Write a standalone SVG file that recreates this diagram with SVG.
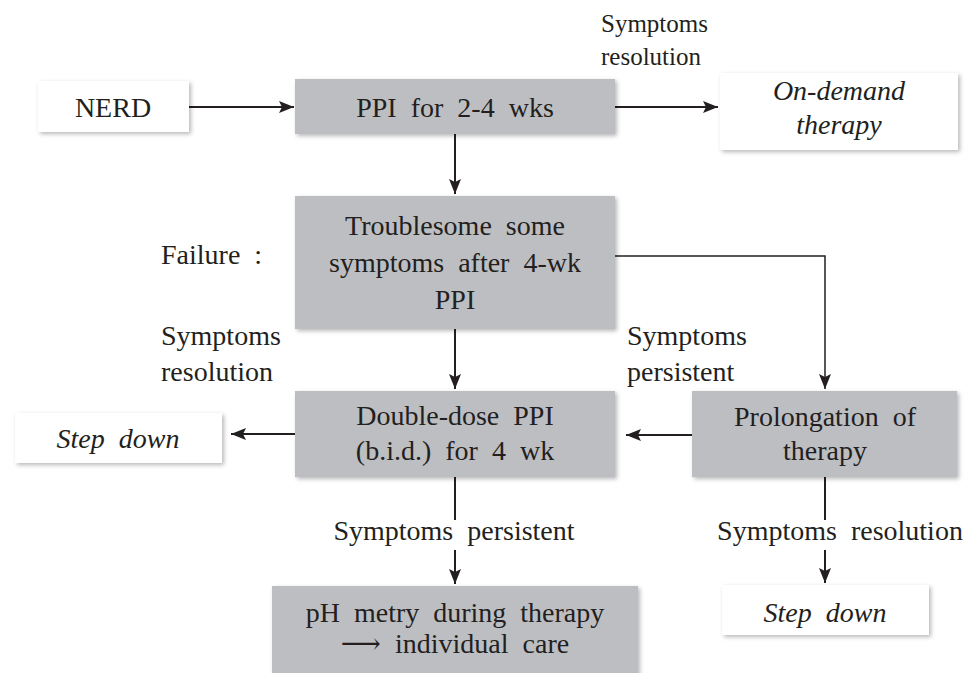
<svg xmlns="http://www.w3.org/2000/svg" width="964" height="673" viewBox="0 0 964 673">
<defs>
<filter id="sh" x="-10%" y="-10%" width="125%" height="130%">
<feDropShadow dx="2" dy="2" stdDeviation="2" flood-color="#000" flood-opacity="0.28"/>
</filter>
<marker id="ah" markerUnits="userSpaceOnUse" markerWidth="16" markerHeight="12" refX="15" refY="6" orient="auto">
<path d="M0,0 L15,6 L0,12 L3,6 z" fill="#231f20"/>
</marker>
<style>
svg text{font-family:'Liberation Serif','Times New Roman',Tinos,'DejaVu Serif',serif !important;fill:#231f20;font-size:28px;word-spacing:7px}
.c{text-anchor:middle}
.i{font-style:italic}
.s{font-size:25px;word-spacing:5px}
.g{fill:#bdbec2;filter:url(#sh)}
.w{fill:#ffffff;filter:url(#sh)}
.ln{stroke:#231f20;stroke-width:2;fill:none}
.thin{stroke:#231f20;stroke-width:1.5;fill:none}
</style>
</defs>
<rect width="964" height="673" fill="#ffffff"/>
<g id="connectors">
<line class="ln" x1="189" y1="107" x2="294" y2="107" marker-end="url(#ah)"/>
<line class="ln" x1="615" y1="107" x2="718" y2="107" marker-end="url(#ah)"/>
<line class="ln" x1="455" y1="134" x2="455" y2="194" marker-end="url(#ah)"/>
<line class="ln" x1="455" y1="329" x2="455" y2="389" marker-end="url(#ah)"/>
<polyline class="thin" points="615,256 825,256 825,389" marker-end="url(#ah)"/>
<line class="ln" x1="692" y1="435" x2="626" y2="435" marker-end="url(#ah)"/>
<line class="ln" x1="295" y1="434" x2="231" y2="434" marker-end="url(#ah)"/>
<line class="ln" x1="455" y1="477" x2="455" y2="520"/>
<line class="ln" x1="455" y1="550" x2="455" y2="584" marker-end="url(#ah)"/>
<line class="ln" x1="825" y1="477" x2="825" y2="520"/>
<line class="ln" x1="825" y1="550" x2="825" y2="583" marker-end="url(#ah)"/>
</g>
<g id="labels">
<text class="s" x="601" y="32" style="font-family:'Liberation Serif',serif">Symptoms</text>
<text class="s" x="601" y="65" style="font-family:'Liberation Serif',serif">resolution</text>
<text x="161" y="264" style="font-family:'Liberation Serif',serif">Failure :</text>
<text x="161" y="345" style="font-family:'Liberation Serif',serif">Symptoms</text>
<text x="161" y="381" style="font-family:'Liberation Serif',serif">resolution</text>
<text x="627" y="345" style="font-family:'Liberation Serif',serif">Symptoms</text>
<text x="627" y="381" style="font-family:'Liberation Serif',serif">persistent</text>
<text class="c" x="454" y="540" style="font-family:'Liberation Serif',serif">Symptoms persistent</text>
<text class="c" x="840" y="540" style="font-family:'Liberation Serif',serif">Symptoms resolution</text>
</g>
<g id="nerd">
<rect class="w" x="38" y="81" width="151" height="51"/>
<text class="c" x="113" y="117" style="font-family:'Liberation Serif',serif">NERD</text>
</g>
<g id="ppi">
<rect class="g" x="295" y="79" width="320" height="55"/>
<text class="c" x="455" y="117" style="font-family:'Liberation Serif',serif">PPI for 2-4 wks</text>
</g>
<g id="ondemand">
<rect class="w" x="720" y="73" width="238" height="77"/>
<text class="c i" x="839" y="100" style="font-family:'Liberation Serif',serif">On-demand</text>
<text class="c i" x="839" y="134" style="font-family:'Liberation Serif',serif">therapy</text>
</g>
<g id="troublesome">
<rect class="g" x="295" y="196" width="320" height="133"/>
<text class="c" x="455" y="235" style="font-family:'Liberation Serif',serif">Troublesome some</text>
<text class="c" x="455" y="272" style="font-family:'Liberation Serif',serif">symptoms after 4-wk</text>
<text class="c" x="455" y="309" style="font-family:'Liberation Serif',serif">PPI</text>
</g>
<g id="doubledose">
<rect class="g" x="295" y="391" width="320" height="86"/>
<text class="c" x="455" y="425" style="font-family:'Liberation Serif',serif">Double-dose PPI</text>
<text class="c" x="455" y="460" style="font-family:'Liberation Serif',serif">(b.i.d.) for 4 wk</text>
</g>
<g id="prolongation">
<rect class="g" x="692" y="391" width="265" height="86"/>
<text class="c" x="825" y="426" style="font-family:'Liberation Serif',serif">Prolongation of</text>
<text class="c" x="825" y="460" style="font-family:'Liberation Serif',serif">therapy</text>
</g>
<g id="stepdown1">
<rect class="w" x="15" y="413" width="207" height="50"/>
<text class="c i" x="118" y="448" style="font-family:'Liberation Serif',serif">Step down</text>
</g>
<g id="phmetry">
<rect class="g" x="272" y="586" width="366" height="92"/>
<text class="c" x="455" y="622" style="font-family:'Liberation Serif',serif">pH metry during therapy</text>
<text class="c" x="455" y="653" style="font-family:'Liberation Serif',serif">⟶ individual care</text>
</g>
<g id="stepdown2">
<rect class="w" x="722" y="585" width="207" height="50"/>
<text class="c i" x="825" y="622" style="font-family:'Liberation Serif',serif">Step down</text>
</g>
</svg>
